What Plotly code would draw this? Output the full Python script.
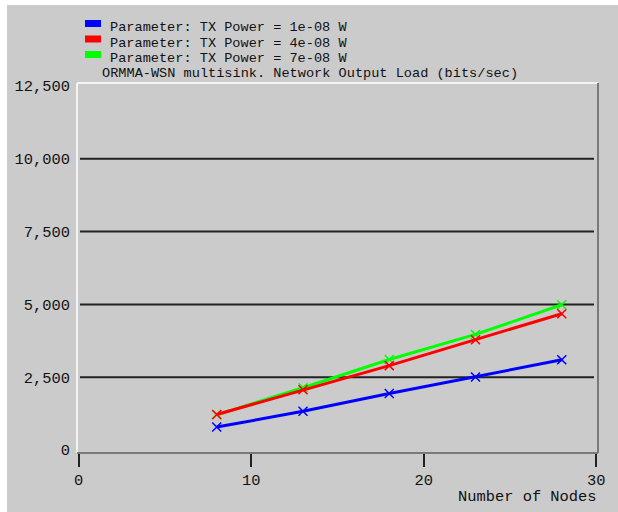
import plotly.graph_objects as go

# Network output load vs. number of nodes, one series per TX power setting
nodes = [8, 13, 18, 23, 28]
load_1e08 = [790, 1330, 1940, 2510, 3100]
load_4e08 = [1220, 2070, 2900, 3790, 4680]
load_7e08 = [1210, 2140, 3110, 3970, 4990]

series_names = [
    "Parameter: TX Power = 1e-08 W",
    "Parameter: TX Power = 4e-08 W",
    "Parameter: TX Power = 7e-08 W",
]
series_colors = ["#0000ff", "#ff0000", "#00ff00"]
series_values = [load_1e08, load_4e08, load_7e08]

y_ticks = [0, 2500, 5000, 7500, 10000, 12500]
x_ticks = [0, 10, 20, 30]
grid_values = [2500, 5000, 7500, 10000]

title_text = "ORMMA-WSN multisink. Network Output Load (bits/sec)"
x_title = "Number of Nodes"

W, H = 618, 512
L, R, T, B = 77, 20, 83, 59
PW, PH = W - L - R, H - T - B

BG = "#cbcbcb"
FONT = "Liberation Mono, DejaVu Sans Mono, monospace"
FS = 15.4        # axis text
FS_HEAD = 13.6   # stacked legend / title rows
TXT = "#111111"


def px(xp):
    return (xp - L) / PW


def py(yp):
    return (H - B - yp) / PH


fig = go.Figure()

# draw green first so red sits on top where they overlap, blue last
for i in [2, 1, 0]:
    fig.add_trace(go.Scatter(
        x=nodes, y=series_values[i], mode="lines+markers",
        name=series_names[i],
        line=dict(color=series_colors[i], width=3),
        marker=dict(symbol="x-thin", size=9,
                    line=dict(color=series_colors[i], width=1.5)),
        showlegend=False,
    ))

shapes = []
# outer white strips around the grey panel
shapes.append(dict(type="rect", xref="paper", yref="paper",
                   x0=px(0), x1=px(W), y0=py(0), y1=py(5),
                   fillcolor="white", line=dict(width=0), layer="below"))
shapes.append(dict(type="rect", xref="paper", yref="paper",
                   x0=px(0), x1=px(7), y0=py(0), y1=py(H),
                   fillcolor="white", line=dict(width=0), layer="below"))

# horizontal grid lines
for g in grid_values:
    shapes.append(dict(type="line", xref="paper", yref="y",
                       x0=px(80), x1=px(594), y0=g, y1=g,
                       line=dict(color="#222222", width=2), layer="below"))

# bevelled plot frame: light top/left, dark bottom/right
shapes.append(dict(type="line", xref="paper", yref="paper",
                   x0=0, x1=1, y0=1, y1=1,
                   line=dict(color="#f4f4f4", width=2)))
shapes.append(dict(type="line", xref="paper", yref="paper",
                   x0=0, x1=0, y0=0, y1=1,
                   line=dict(color="#f4f4f4", width=2)))
shapes.append(dict(type="line", xref="paper", yref="paper",
                   x0=1, x1=1, y0=0, y1=1,
                   line=dict(color="#7a7a7a", width=2)))
shapes.append(dict(type="line", xref="paper", yref="paper",
                   x0=0, x1=1, y0=0, y1=0,
                   line=dict(color="#7a7a7a", width=2)))

annotations = []
# legend: colour swatches with labels
for i, (name, col) in enumerate(zip(series_names, series_colors)):
    top = 20 + i * 15.5
    shapes.append(dict(type="rect", xref="paper", yref="paper",
                       x0=px(85), x1=px(101), y0=py(top + 7), y1=py(top),
                       fillcolor=col, line=dict(width=0)))
    annotations.append(dict(xref="paper", yref="paper",
                            x=px(108), y=py(top + 7.5),
                            xanchor="left", yanchor="middle",
                            text=name, showarrow=False,
                            font=dict(family=FONT, size=FS_HEAD, color=TXT)))

annotations.append(dict(xref="paper", yref="paper", x=px(100), y=py(73.5),
                        xanchor="left", yanchor="middle", text=title_text,
                        showarrow=False,
                        font=dict(family=FONT, size=FS_HEAD, color=TXT)))
annotations.append(dict(xref="paper", yref="paper", x=px(599), y=py(497),
                        xanchor="right", yanchor="middle", text=x_title,
                        showarrow=False,
                        font=dict(family=FONT, size=FS, color=TXT)))

fig.update_layout(
    width=W, height=H,
    margin=dict(l=L, r=R, t=T, b=B, pad=0),
    paper_bgcolor=BG, plot_bgcolor=BG,
    shapes=shapes, annotations=annotations,
    showlegend=False,
    xaxis=dict(range=[-0.1, 30.1], tickvals=x_ticks, showgrid=False,
               zeroline=False, showline=False,
               ticks="outside", ticklen=13, tickwidth=2,
               tickcolor="#222222",
               tickfont=dict(family=FONT, size=FS, color=TXT)),
    yaxis=dict(range=[-100, 12600], tickvals=y_ticks, tickformat=",",
               showgrid=False, zeroline=False, showline=False,
               ticks="", ticklabelstandoff=6,
               tickfont=dict(family=FONT, size=FS, color=TXT)),
)

fig.write_html("out.html")
